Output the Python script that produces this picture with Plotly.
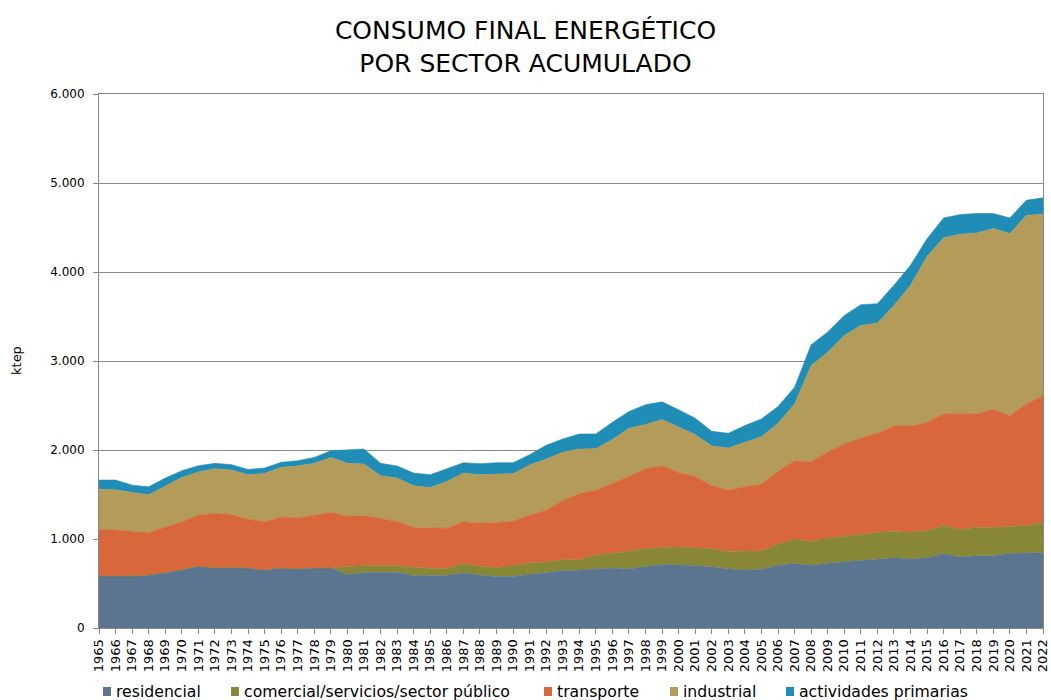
import plotly.graph_objects as go

years = list(range(1965, 2023))

residencial = [583, 583, 583, 594, 620, 654, 692, 677, 677, 673, 650, 673, 662, 673, 673,
               598, 624, 624, 624, 588, 594, 594, 620, 594, 579, 579, 605, 620, 647, 650,
               662, 673, 662, 692, 711, 711, 699, 688, 662, 649, 660, 705, 724, 705, 728,
               743, 762, 773, 788, 773, 788, 833, 799, 811, 811, 837, 841, 848]

comercial = [0, 0, 0, 0, 0, 0, 0, 0, 0, 0, 0, 0, 0, 0, 0,
             94, 75, 75, 75, 96, 75, 75, 106, 101, 98, 124, 124, 121, 120, 117,
             161, 165, 203, 199, 191, 199, 199, 205, 197, 218, 207, 237, 270, 267, 281,
             289, 292, 300, 296, 304, 304, 319, 308, 318, 318, 304, 311, 338]

transporte = [518, 518, 503, 477, 515, 541, 575, 612, 597, 549, 545, 575, 575, 594, 628,
              564, 564, 534, 496, 444, 451, 451, 469, 482, 507, 496, 542, 582, 662, 744,
              726, 786, 838, 898, 921, 838, 805, 707, 691, 720, 750, 818, 886, 897, 965,
              1036, 1081, 1115, 1186, 1193, 1219, 1253, 1306, 1276, 1329, 1245, 1366, 1426]

industrial = [459, 452, 437, 425, 459, 497, 485, 500, 500, 500, 542, 557, 583, 583, 616,
              594, 579, 478, 489, 470, 459, 527, 546, 545, 545, 534, 560, 575, 545, 500,
              466, 493, 541, 497, 519, 508, 470, 445, 473, 499, 533, 540, 638, 1080, 1125,
              1219, 1265, 1238, 1355, 1580, 1865, 1981, 2011, 2034, 2030, 2046, 2120, 2037]

primarias = [102, 109, 82, 90, 90, 75, 71, 61, 61, 60, 60, 56, 60, 67, 75,
             150, 169, 139, 136, 143, 143, 142, 116, 124, 128, 124, 116, 155, 150, 169,
             165, 195, 188, 222, 199, 195, 184, 165, 165, 188, 199, 188, 187, 233, 226,
             225, 232, 218, 225, 225, 199, 222, 221, 218, 169, 176, 169, 184]

names = ["residencial", "comercial/servicios/sector público", "transporte",
         "industrial", "actividades primarias"]
colors = ["#5B7590", "#878735", "#D9673C", "#B39B5A", "#208DB6"]
values = [residencial, comercial, transporte, industrial, primarias]

FONT = "DejaVu Sans, Verdana, sans-serif"

# plot-area geometry (pixels)
W, H = 1051, 700
L, R, T, B = 99, 8, 94, 72
PW, PH = W - L - R, H - T - B


def px_x(px):
    return (px - L) / PW


def px_y(py):
    return (H - B - py) / PH


fig = go.Figure()
for name, vals, col in zip(names, values, colors):
    fig.add_trace(go.Scatter(
        x=years, y=vals, name=name, mode="lines",
        stackgroup="one", fillcolor=col,
        line=dict(width=0.6, color=col),
        hoverinfo="x+y+name", showlegend=False,
    ))

# legend drawn as text + colour squares below the axis
legend_text_left = [114, 242, 555, 681, 797]
annotations = [dict(
    text="ktep", xref="paper", yref="paper",
    x=px_x(16), y=0.5, xanchor="center", yanchor="middle",
    textangle=-90, showarrow=False,
    font=dict(family=FONT, size=13, color="black"),
)]
shapes = []
LEG_Y = 691
for name, col, tx in zip(names, colors, legend_text_left):
    annotations.append(dict(
        text=name, xref="paper", yref="paper",
        x=px_x(tx), y=px_y(LEG_Y), xanchor="left", yanchor="middle",
        showarrow=False, font=dict(family=FONT, size=15.7, color="black"),
    ))
    shapes.append(dict(
        type="rect", xref="paper", yref="paper",
        x0=px_x(tx - 11), x1=px_x(tx - 3),
        y0=px_y(LEG_Y + 5), y1=px_y(LEG_Y - 4),
        fillcolor=col, line=dict(width=0),
    ))

fig.update_layout(
    width=W, height=H,
    paper_bgcolor="white", plot_bgcolor="white",
    separators=",.",
    margin=dict(l=L, r=R, t=T, b=B, autoexpand=False),
    title=dict(
        text="CONSUMO FINAL ENERGÉTICO<br>POR SECTOR ACUMULADO",
        x=0.5, xanchor="center", xref="container",
        y=1 - 39 / 700, yanchor="middle", yref="container",
        font=dict(family=FONT, size=25, color="black"),
    ),
    font=dict(family=FONT, size=11, color="black"),
    showlegend=False,
    xaxis=dict(
        range=[1965, 2022], tickmode="array", tickvals=years,
        ticktext=[str(y) for y in years], tickangle=-90,
        showgrid=False, showline=True, linecolor="#888888", linewidth=1,
        ticks="outside", ticklen=5, tickcolor="#888888",
        tickfont=dict(size=13), mirror=True, automargin=False,
    ),
    yaxis=dict(
        range=[0, 6000], dtick=1000, tickformat=",d",
        showgrid=True, gridcolor="#8c8c8c", gridwidth=1,
        showline=True, linecolor="#888888", linewidth=1, mirror=True,
        ticks="outside", ticklen=5, tickcolor="#888888",
        tickfont=dict(size=12), automargin=False, ticklabelstandoff=6,
        zeroline=False,
    ),
    annotations=annotations,
    shapes=shapes,
)

fig.write_html(
    "out.html",
    config={"displayModeBar": False},
    post_script="document.body.style.margin='0';document.body.style.overflow='hidden';",
)
